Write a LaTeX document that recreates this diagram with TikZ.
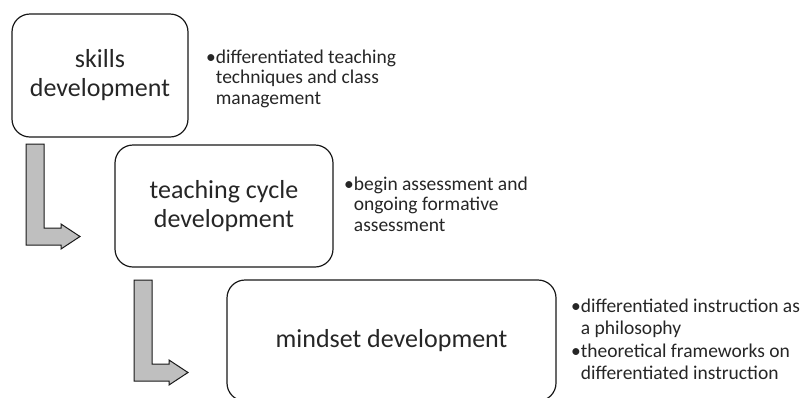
\documentclass[tikz,border=0pt]{standalone}
\usepackage{fontspec}
\setmainfont{Carlito}
\usetikzlibrary{positioning}

\begin{document}
\begin{tikzpicture}
    [ x=1pt, y=-1pt,
    every node/.style={text=black!85},
    stage/.style={draw=black!90, rounded corners=18pt, line width=1.2pt, align=center, inner sep=0pt,
      font=\fontsize{26}{29}\selectfont},
    note/.style={anchor=base west, inner sep=0pt, font=\fontsize{19.5}{20.5}\selectfont},
    bentarrow/.style={draw=black!90, fill=black!25, line width=1pt, line join=miter}
    ]

    \useasboundingbox (0,0) rectangle (811,397);

    % the three stages
    \node[stage, minimum width=176pt, minimum height=123pt] (skills)   at (100,75.5) {skills\\development};
    \node[stage, minimum width=218pt, minimum height=122pt] (teaching) at (224,206)  {teaching cycle\\development};
    \node[stage, minimum width=329pt, minimum height=121pt] (mindset)  at (391.5,340.5) {mindset development};

    % bullet notes
    \node[note] (n1) at (206,63) {\begin{tabular}[t]{@{}l@{}l@{}}
        •&differentiated teaching\\ &techniques and class\\ &management\end{tabular}};
    \node[note] (n2) at (344,190) {\begin{tabular}[t]{@{}l@{}l@{}}
        •&begin assessment and\\ &ongoing formative\\ &assessment\end{tabular}};
    \node[note, font=\fontsize{19.5}{22.5}\selectfont] (n3) at (571,312) {\begin{tabular}[t]{@{}l@{}l@{}}
        •&differentiated instruction as\\ &a philosophy\\
        •&theoretical frameworks on\\ &differentiated instruction\end{tabular}};

    % bent arrows between stages
    \coordinate (a1) at (26,144);
    \coordinate (a2) at (134,280);
    \foreach \a in {a1,a2}
      \draw[bentarrow] (\a) -- ++(18,0) -- ++(0,84) -- ++(17,0) -- ++(0,-4) -- ++(19,12.5)
        -- ++(-19,12.5) -- ++(0,-4) -- ++(-35,0) -- cycle;

\end{tikzpicture}
\end{document}
